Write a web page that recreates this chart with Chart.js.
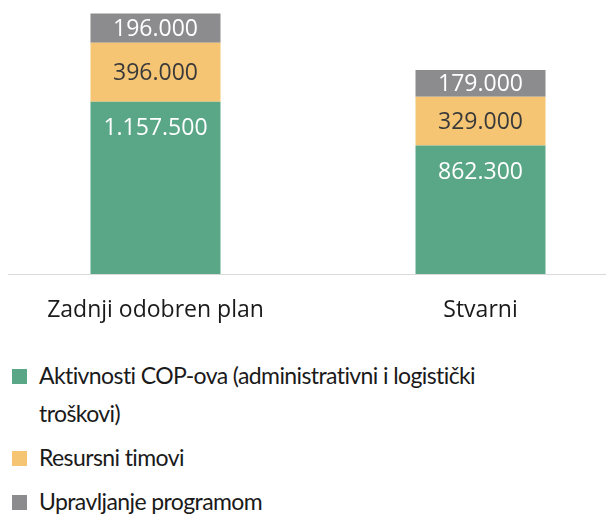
<!DOCTYPE html>
<html lang="hr">
<head>
    <meta charset="UTF-8">
    <title>Troškovi</title>
    <script src="https://cdn.jsdelivr.net/npm/chart.js@4.4.1/dist/chart.umd.min.js"></script>
    <style>
        html, body { margin: 0; padding: 0; background: #fff; overflow: hidden; }
        body { width: 606px; height: 516px; position: relative; font-family: "Open Sans", sans-serif; }
        #wrap { position: absolute; left: -7px; top: 0; width: 650px; height: 330px; }
        #legend { position: absolute; left: 12px; top: 356px; width: 505px; color: #1a1a1a; font-family: Lato, sans-serif; font-size: 23px; letter-spacing: -0.6px; }
        .item { display: flex; align-items: flex-start; line-height: 38px; margin-bottom: 6px; }
        .box { flex: none; width: 15px; height: 15px; margin-top: 13px; margin-right: 12px; }
    </style>
</head>
<body>
    <div id="wrap"><canvas id="myChart"></canvas></div>
    <div id="legend"></div>
    <script>
        // podaci
        const categories = ['Zadnji odobren plan', 'Stvarni'];
        const seriesNames = ['Aktivnosti COP-ova (administrativni i logistički troškovi)', 'Resursni timovi', 'Upravljanje programom'];
        const aktivnosti = [1157500, 862300];
        const resursni = [396000, 329000];
        const upravljanje = [196000, 179000];
        const colors = ['#5aa788', '#f5c573', '#8c8c8e'];
        const labelColors = ['#ffffff', '#3a3a3a', '#ffffff'];

        function fmt(v) {
            return v.toString().replace(/\B(?=(\d{3})+(?!\d))/g, '.');
        }

        // oznake vrijednosti na stupcima + osnovna linija
        const valueLabels = {
            id: 'valueLabels',
            afterDatasetsDraw(chart) {
                const ctx = chart.ctx;
                ctx.save();
                ctx.font = '23px "Open Sans"';
                ctx.textAlign = 'center';
                ctx.textBaseline = 'middle';
                chart.data.datasets.forEach((ds, i) => {
                    chart.getDatasetMeta(i).data.forEach((bar, j) => {
                        let y = i === 0 ? bar.y + 27 : (bar.y + bar.base) / 2 + 1;
                        ctx.fillStyle = labelColors[i];
                        ctx.fillText(fmt(ds.data[j]), bar.x, y);
                    });
                });
                const y0 = Math.round(chart.scales.y.getPixelForValue(0)) + 0.5;
                ctx.strokeStyle = '#d9d9d9';
                ctx.lineWidth = 1;
                ctx.beginPath();
                ctx.moveTo(15, y0);
                ctx.lineTo(chart.width, y0);
                ctx.stroke();
                ctx.restore();
            }
        };

        window.onload = function() {
            const ctx = document.getElementById('myChart').getContext('2d');
            new Chart(ctx, {
                type: 'bar',
                data: {
                    labels: categories,
                    datasets: [
                        { label: seriesNames[0], data: aktivnosti, backgroundColor: colors[0] },
                        { label: seriesNames[1], data: resursni, backgroundColor: colors[1] },
                        { label: seriesNames[2], data: upravljanje, backgroundColor: colors[2] }
                    ]
                },
                options: {
                    responsive: true,
                    maintainAspectRatio: false,
                    animation: false,
                    layout: { padding: { top: 6, left: 0, right: 0, bottom: 0 } },
                    plugins: { legend: { display: false }, tooltip: { enabled: false } },
                    datasets: { bar: { barPercentage: 0.4, categoryPercentage: 1.0 } },
                    scales: {
                        x: {
                            stacked: true,
                            grid: { display: false, drawTicks: false },
                            border: { display: false },
                            ticks: { color: '#1a1a1a', font: { family: 'Open Sans', size: 23 }, padding: 23, maxRotation: 0 },
                            afterFit(scale) { scale.height = 56; }
                        },
                        y: {
                            stacked: true,
                            display: false,
                            min: 0,
                            max: 1800000
                        }
                    }
                },
                plugins: [valueLabels]
            });

            // legenda
            const leg = document.getElementById('legend');
            seriesNames.forEach((name, i) => {
                const item = document.createElement('div');
                item.className = 'item';
                item.innerHTML = '<span class="box" style="background:' + colors[i] + '"></span><span>' + name + '</span>';
                leg.appendChild(item);
            });
        };
    </script>
</body>
</html>
